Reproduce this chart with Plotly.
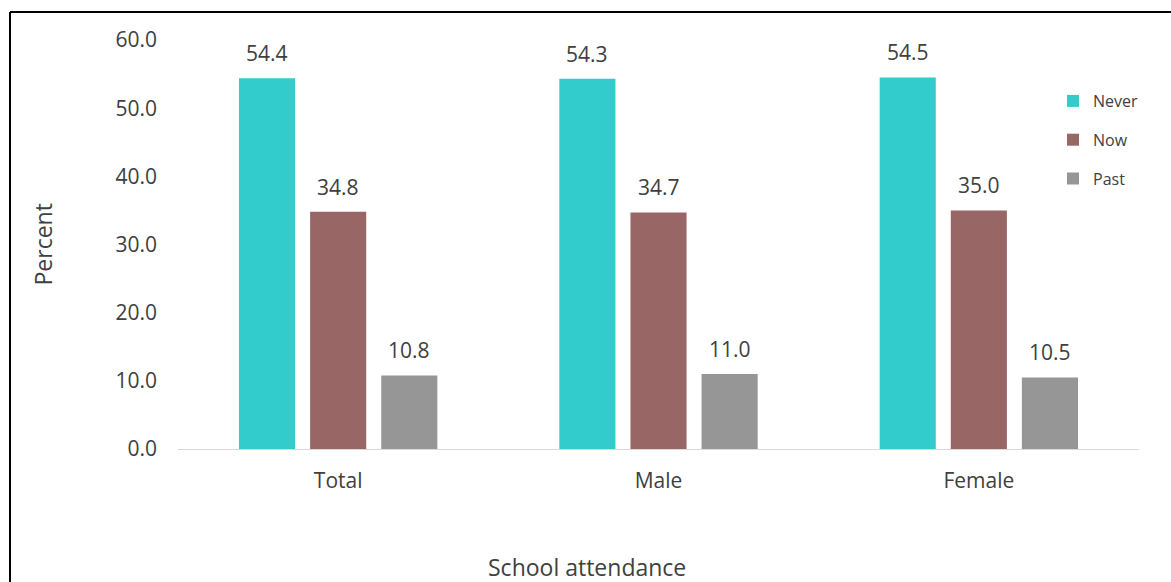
import plotly.graph_objects as go

# School attendance by sex (percent)
categories = ["Total", "Male", "Female"]
never = [54.4, 54.3, 54.5]
now = [34.8, 34.7, 35.0]
past = [10.8, 11.0, 10.5]
series_names = ["Never", "Now", "Past"]
y_ticks = [0, 10, 20, 30, 40, 50, 60]

colors = ["#33CCCC", "#996666", "#969696"]
text_color = "#404040"
font_family = "Open Sans, sans-serif"

W, H = 1171, 582
ML, MR, MT, MB = 178, 32, 40, 133
plot_w = W - ML - MR
plot_h = H - MT - MB


def px_to_paper_x(px):
    return (px - ML) / plot_w


def px_to_paper_y(py):
    return (H - MB - py) / plot_h


fig = go.Figure()
for i, (name, vals) in enumerate(zip(series_names, [never, now, past])):
    fig.add_trace(go.Bar(
        x=categories, y=vals, name=name,
        marker=dict(color=colors[i], line=dict(width=0)),
        legendgroup=name,
        hoverinfo="skip",
    ))

# value labels above each bar
slot_px = plot_w / len(categories) * (1 - 0.334) / 3
annotations = []
for i, vals in enumerate([never, now, past]):
    for c, v in zip(categories, vals):
        annotations.append(dict(
            x=c, y=v, xref="x", yref="y", text=f"{v:.1f}",
            showarrow=False, xanchor="center", yanchor="bottom", yshift=9,
            xshift=(i - 1) * slot_px,
            font=dict(family=font_family, size=21, color=text_color),
        ))

# axis titles
annotations.append(dict(
    x=px_to_paper_x(42), y=0.5, xref="paper", yref="paper",
    xanchor="center", yanchor="middle",
    text="Percent", textangle=-90, showarrow=False,
    font=dict(family=font_family, size=23, color=text_color),
))
annotations.append(dict(
    x=px_to_paper_x(587), y=px_to_paper_y(567), xref="paper", yref="paper",
    xanchor="center", yanchor="middle",
    text="School attendance", showarrow=False,
    font=dict(family=font_family, size=23, color=text_color),
))

# frame around the chart
x_left = px_to_paper_x(10)
x_right = px_to_paper_x(1175)
y_top = px_to_paper_y(12)
y_bot = px_to_paper_y(590)
shapes = [
    dict(type="line", xref="paper", yref="paper", x0=x_left, x1=x_right,
         y0=y_top, y1=y_top, line=dict(color="black", width=2)),
    dict(type="line", xref="paper", yref="paper", x0=x_left, x1=x_left,
         y0=y_top, y1=y_bot, line=dict(color="black", width=2)),
]

fig.update_layout(
    width=W, height=H,
    margin=dict(l=ML, r=MR, t=MT, b=MB, autoexpand=False),
    paper_bgcolor="white", plot_bgcolor="white",
    barmode="group", bargap=0.334, bargroupgap=0.211,
    font=dict(family=font_family, size=21, color=text_color),
    xaxis=dict(
        showline=True, linecolor="#d9d9d9", linewidth=1,
        showgrid=False, ticks="", ticklabelstandoff=13,
        tickfont=dict(size=21),
        range=[-0.5, 2.5], fixedrange=True,
    ),
    yaxis=dict(
        range=[0, 60], tickvals=y_ticks, tickformat=".1f",
        showgrid=False, zeroline=False, showline=False, ticks="",
        ticklabelstandoff=20, tickfont=dict(size=21), fixedrange=True,
    ),
    legend=dict(
        x=px_to_paper_x(1053), y=px_to_paper_y(84),
        xanchor="left", yanchor="top",
        font=dict(family=font_family, size=16, color=text_color),
        tracegroupgap=15, bgcolor="rgba(0,0,0,0)",
    ),
    annotations=annotations,
    shapes=shapes,
)

fig.write_html("out.html")
